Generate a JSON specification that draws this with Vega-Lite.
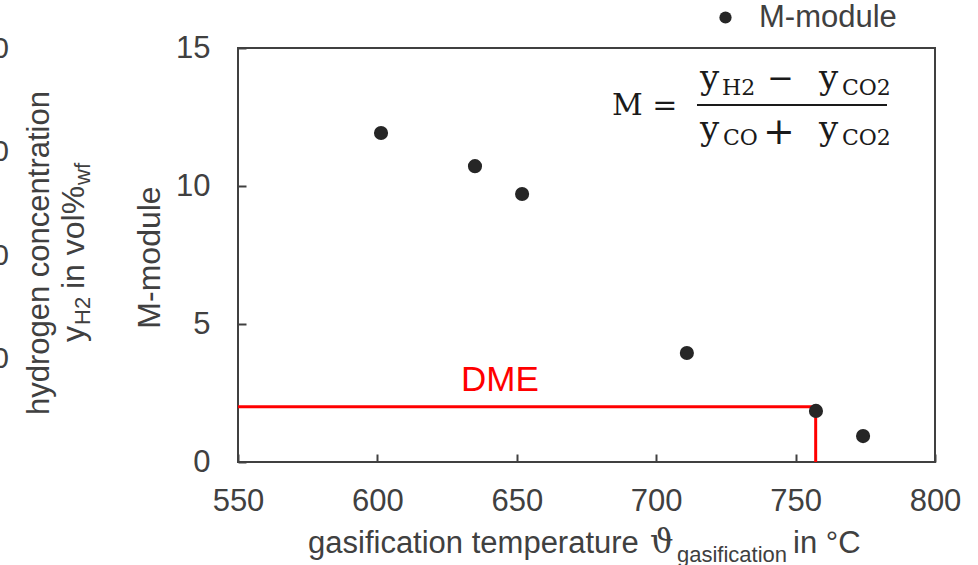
{
  "$schema": "https://vega.github.io/schema/vega-lite/v6.json",
  "width": 697,
  "height": 414,
  "autosize": "none",
  "padding": {"left": 238, "top": 48, "right": 43, "bottom": 103},
  "background": "white",
  "config": {
    "view": {"stroke": "#404040", "strokeWidth": 2},
    "font": "Liberation Sans",
    "axis": {"labelFont": "Liberation Sans", "titleFont": "Liberation Sans", "grid": false}
  },
  "datasets": {
    "mmod": [
      {"x": 601.3, "y": 11.92},
      {"x": 635.0, "y": 10.72},
      {"x": 651.9, "y": 9.71},
      {"x": 711.0, "y": 3.95},
      {"x": 757.3, "y": 1.85},
      {"x": 774.2, "y": 0.94}
    ],
    "dme": [
      {"x": 550, "x2": 757.2, "y": 2, "y2": 2},
      {"x": 757.2, "x2": 757.2, "y": 0, "y2": 2}
    ],
    "dmelabel": [{"x": 643.97, "y": 2.97, "t": "DME"}],
    "fM": [{"x": 684.15, "y": 12.572, "t": "M ="}],
    "fy": [
      {"x": 715.7, "y": 13.514, "t": "y"},
      {"x": 758.39, "y": 13.514, "t": "y"},
      {"x": 715.71, "y": 11.667, "t": "y"},
      {"x": 758.39, "y": 11.667, "t": "y"}
    ],
    "fminus": [{"x": 739.8, "y": 13.514, "t": "−"}],
    "fplus": [{"x": 738.3, "y": 11.53, "t": "+"}],
    "fsmall": [
      {"x": 723.6, "y": 13.297, "t": "H2"},
      {"x": 766.64, "y": 13.297, "t": "CO2"},
      {"x": 723.96, "y": 11.486, "t": "CO"},
      {"x": 766.64, "y": 11.486, "t": "CO2"}
    ],
    "fbar": [{"x": 714.63, "x2": 782.78, "y": 12.935, "y2": 12.935}],
    "xtitle": [
      {"x": 575.11, "y": -3.297, "t": "gasification temperature"},
      {"x": 749.07, "y": -3.297, "t": "in °C"}
    ],
    "xtheta": [{"x": 697.78, "y": -3.297, "t": "ϑ"}],
    "xtitlesub": [{"x": 707.46, "y": -3.623, "t": "gasification"}],
    "ltitle1": [{"x": 478.98, "y": 7.57, "t": "hydrogen concentration"}],
    "ltitle2": [
      {"x": 494.76, "y": 4.348, "t": "y"},
      {"x": 494.76, "y": 6.268, "t": "in vol%"}
    ],
    "ltitle2sub": [
      {"x": 496.92, "y": 4.964, "t": "H2"},
      {"x": 496.92, "y": 10.036, "t": "wf"}
    ]
  },
  "layer": [
    {
      "encoding": {
        "x": {
          "field": "x",
          "type": "quantitative",
          "scale": {"domain": [550, 800], "nice": false, "zero": false},
          "axis": {
            "values": [550, 600, 650, 700, 750, 800],
            "title": null,
            "domain": false,
            "tickSize": -8,
            "tickWidth": 2,
            "tickColor": "#404040",
            "labelPadding": 32,
            "labelFontSize": 31,
            "labelColor": "#404040",
            "labelFlush": false
          }
        },
        "y": {
          "field": "y",
          "type": "quantitative",
          "scale": {"domain": [0, 15], "nice": false, "zero": false},
          "axis": {
            "orient": "left",
            "values": [0, 5, 10, 15],
            "domain": false,
            "tickSize": -8,
            "tickWidth": 2,
            "tickColor": "#404040",
            "labelPadding": 36,
            "labelFontSize": 31,
            "labelColor": "#404040",
            "title": "M-module",
            "titleFontSize": 32,
            "titleFontWeight": "normal",
            "titleColor": "#404040",
            "titleAngle": 270,
            "titleAlign": "center",
            "titleBaseline": "alphabetic",
            "titleX": -79,
            "titleY": 209
          }
        }
      },
      "layer": [
        {
          "data": {"name": "dme"},
          "mark": {"type": "rule", "color": "#FF0000", "strokeWidth": 3},
          "encoding": {"x2": {"field": "x2"}, "y2": {"field": "y2"}}
        },
        {
          "data": {"name": "mmod"},
          "mark": {"type": "point", "filled": true, "size": 200, "opacity": 1},
          "encoding": {
            "color": {
              "datum": "M-module",
              "scale": {"range": ["#262626"]},
              "legend": {
                "orient": "none",
                "legendX": 472,
                "legendY": -46,
                "title": null,
                "padding": 0,
                "symbolType": "circle",
                "symbolSize": 150,
                "symbolStrokeWidth": 0,
                "labelFontSize": 31,
                "labelFont": "Liberation Sans",
                "labelColor": "#404040",
                "labelOffset": 18
              }
            }
          }
        },
        {
          "data": {"name": "dmelabel"},
          "mark": {"type": "text", "color": "#FF0000", "fontSize": 35, "font": "Liberation Sans", "align": "center", "baseline": "middle"},
          "encoding": {"text": {"field": "t"}}
        },
        {
          "data": {"name": "fM"},
          "mark": {"type": "text", "color": "#1a1a1a", "fontSize": 30, "font": "DejaVu Serif", "align": "left", "baseline": "alphabetic"},
          "encoding": {"text": {"field": "t"}}
        },
        {
          "data": {"name": "fy"},
          "mark": {"type": "text", "color": "#1a1a1a", "fontSize": 34, "font": "DejaVu Serif", "align": "left", "baseline": "alphabetic"},
          "encoding": {"text": {"field": "t"}}
        },
        {
          "data": {"name": "fminus"},
          "mark": {"type": "text", "color": "#1a1a1a", "fontSize": 32, "font": "DejaVu Serif", "align": "left", "baseline": "alphabetic"},
          "encoding": {"text": {"field": "t"}}
        },
        {
          "data": {"name": "fplus"},
          "mark": {"type": "text", "color": "#1a1a1a", "fontSize": 38, "font": "DejaVu Serif", "align": "left", "baseline": "alphabetic"},
          "encoding": {"text": {"field": "t"}}
        },
        {
          "data": {"name": "fsmall"},
          "mark": {"type": "text", "color": "#1a1a1a", "fontSize": 22, "font": "DejaVu Serif", "align": "left", "baseline": "alphabetic"},
          "encoding": {"text": {"field": "t"}}
        },
        {
          "data": {"name": "fbar"},
          "mark": {"type": "rule", "color": "#1a1a1a", "strokeWidth": 2},
          "encoding": {"x2": {"field": "x2"}, "y2": {"field": "y2"}}
        },
        {
          "data": {"name": "xtitle"},
          "mark": {"type": "text", "color": "#404040", "fontSize": 31, "font": "Liberation Sans", "align": "left", "baseline": "alphabetic"},
          "encoding": {"text": {"field": "t"}}
        },
        {
          "data": {"name": "xtheta"},
          "mark": {"type": "text", "color": "#404040", "fontSize": 33, "font": "DejaVu Serif", "align": "left", "baseline": "alphabetic"},
          "encoding": {"text": {"field": "t"}}
        },
        {
          "data": {"name": "xtitlesub"},
          "mark": {"type": "text", "color": "#404040", "fontSize": 22, "font": "Liberation Sans", "align": "left", "baseline": "alphabetic"},
          "encoding": {"text": {"field": "t"}}
        },
        {
          "data": {"name": "ltitle1"},
          "mark": {"type": "text", "color": "#404040", "fontSize": 31, "font": "Liberation Sans", "align": "center", "baseline": "middle", "angle": 270},
          "encoding": {"text": {"field": "t"}}
        },
        {
          "data": {"name": "ltitle2"},
          "mark": {"type": "text", "color": "#404040", "fontSize": 32, "font": "Liberation Sans", "align": "left", "baseline": "alphabetic", "angle": 270},
          "encoding": {"text": {"field": "t"}}
        },
        {
          "data": {"name": "ltitle2sub"},
          "mark": {"type": "text", "color": "#404040", "fontSize": 22, "font": "Liberation Sans", "align": "left", "baseline": "alphabetic", "angle": 270},
          "encoding": {"text": {"field": "t"}}
        }
      ]
    },
    {
      "data": {"values": [{"h": 0}]},
      "mark": {"type": "rule", "opacity": 0},
      "encoding": {
        "y": {
          "datum": 0,
          "type": "quantitative",
          "scale": {"domain": [0, 40], "nice": false, "zero": false},
          "axis": {
            "orient": "right",
            "offset": -960,
            "values": [0, 10, 20, 30, 40],
            "ticks": false,
            "tickSize": 0,
            "domain": false,
            "labelPadding": 0,
            "labelFontSize": 30,
            "labelColor": "#404040",
            "labelFont": "Liberation Sans",
            "title": null
          }
        }
      }
    }
  ],
  "resolve": {"scale": {"y": "independent"}}
}
